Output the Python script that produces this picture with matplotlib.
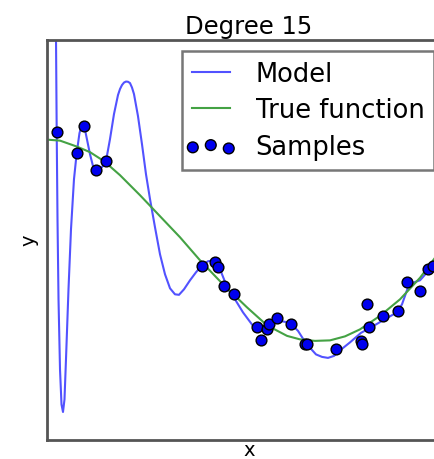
import matplotlib as mpl
mpl.use('Agg')
import matplotlib.pyplot as plt
from matplotlib.collections import PathCollection
from matplotlib.legend_handler import HandlerPathCollection

# samples
sample_x = [0.024, 0.0735, 0.0916, 0.1205, 0.146, 0.3837, 0.4158, 0.4245, 0.4381,
            0.4621, 0.5205, 0.5285, 0.5446, 0.5502, 0.5686, 0.6032, 0.6386, 0.6448,
            0.7153, 0.7772, 0.7797, 0.7913, 0.7978, 0.8317, 0.8676, 0.8903, 0.9225,
            0.9438, 0.9562]
sample_y = [1.078, 0.865, 1.138, 0.698, 0.782, -0.262, -0.218, -0.27, -0.465,
            -0.537, -0.875, -1.005, -0.888, -0.837, -0.778, -0.842, -1.045, -1.045,
            -1.087, -1.012, -1.045, -0.645, -0.872, -0.765, -0.712, -0.418, -0.512,
            -0.288, -0.265]

# degree 15 model curve
model_x = [0.0198, 0.0223, 0.0240, 0.0260, 0.0285, 0.0322, 0.0359, 0.0396, 0.0433,
           0.0470, 0.0532, 0.0594, 0.0668, 0.0735, 0.0804, 0.0866, 0.0916, 0.0978,
           0.1064, 0.1139, 0.1213, 0.1287, 0.1361, 0.1460, 0.1559, 0.1658, 0.1757,
           0.1807, 0.1856, 0.1906, 0.1955, 0.2004, 0.2054, 0.2104, 0.2153, 0.2252,
           0.2351, 0.2450, 0.2550, 0.2673,
           0.2797, 0.2921, 0.3045, 0.3168, 0.3267, 0.3391, 0.3540, 0.3688, 0.3837,
           0.3985, 0.4134, 0.4233, 0.4332, 0.4480, 0.4653, 0.4851, 0.5099, 0.5347,
           0.5545, 0.5767, 0.6015, 0.6213, 0.6411, 0.6658, 0.6807, 0.6955, 0.7104,
           0.7252, 0.7500, 0.7772, 0.8020, 0.8317, 0.8663, 0.8787, 0.8936, 0.9084,
           0.9233, 0.9431, 0.9604, 0.9851]
model_y = [2.905, 2.005, 1.078, 0.205, -0.595, -1.295, -1.645, -1.72, -1.595,
           -1.195, -0.495, 0.105, 0.605, 0.865, 1.065, 1.155, 1.145, 1.025,
           0.855, 0.735, 0.685, 0.695, 0.725, 0.785, 1.005, 1.255, 1.445,
           1.505, 1.545, 1.57, 1.58, 1.578, 1.565, 1.52, 1.455, 1.235,
           0.955, 0.655, 0.405, 0.125,
           -0.145, -0.345, -0.485, -0.545, -0.55, -0.495, -0.405, -0.325, -0.255,
           -0.215, -0.205, -0.235, -0.345, -0.495, -0.595, -0.725, -0.86, -0.895,
           -0.83, -0.81, -0.83, -0.91, -1.035, -1.145, -1.17, -1.18, -1.16,
           -1.105, -1.025, -0.93, -0.875, -0.805, -0.725, -0.645, -0.475, -0.425,
           -0.405, -0.315, -0.225, -0.115]

# true function
true_x = [0.0, 0.0322, 0.0743, 0.1064, 0.1411, 0.1807, 0.2302, 0.2797, 0.3292,
          0.3787, 0.4356, 0.4950, 0.5446, 0.5941, 0.6262, 0.6634, 0.7005, 0.7376,
          0.7748, 0.8243, 0.8738, 0.9233, 0.9604, 1.0]
true_y = [1.0, 0.99, 0.93, 0.875, 0.785, 0.645, 0.445, 0.235, 0.025,
          -0.205, -0.445, -0.675, -0.855, -0.96, -0.995, -1.01, -1.005, -0.965,
          -0.895, -0.76, -0.595, -0.38, -0.18, 0.005]

fig = plt.figure(figsize=(4.35, 4.6), dpi=100)
# the axes run past the right edge of the picture, as in the reference crop
ax = fig.add_axes([47 / 435, 19 / 460, 404 / 435, 400.5 / 460])

ax.plot(model_x, model_y, color='#5252ff', lw=1.5, label='Model')
ax.plot(true_x, true_y, color='#44a244', lw=1.5, label='True function')
ax.scatter(sample_x, sample_y, s=60, facecolor='#0000ee', edgecolor='black',
           lw=1, zorder=3, label='Samples')

ax.set_xlim(0, 1)
ax.set_ylim(-2, 2)
ax.set_xticks(())
ax.set_yticks(())
for sp in ax.spines.values():
    sp.set_color('#555555')
    sp.set_linewidth(2)

ax.set_xlabel('x', fontsize=14, labelpad=0)
ax.set_ylabel('y', fontsize=14, labelpad=6)
ax.set_title('Degree 15', fontsize=17.5, pad=5)

leg = ax.legend(loc='upper left', bbox_to_anchor=((182 - 47) / 404, (441 - 52) / 400.5),
                borderaxespad=0, fontsize=18.5, handlelength=1.5, handletextpad=1.0,
                scatterpoints=3, fancybox=False, labelspacing=0.42, borderpad=0.37,
                handler_map={PathCollection: HandlerPathCollection(marker_pad=0.05)})
leg.get_frame().set_edgecolor('#555555')
leg.get_frame().set_linewidth(1.8)

fig.savefig('out.png', dpi=100)
